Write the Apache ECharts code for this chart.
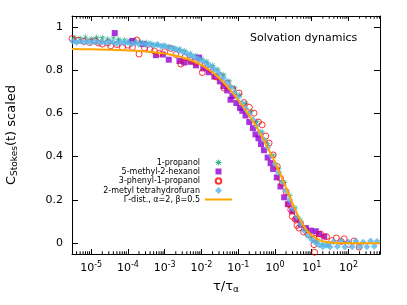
<!DOCTYPE html>
<html><head><meta charset="utf-8">
<script src="https://cdn.jsdelivr.net/npm/echarts@6/dist/echarts.min.js"></script>
<style>html,body{margin:0;padding:0;background:#fff}#c{width:407px;height:305px}</style>
</head><body><div id="c"></div>
<script>
// ---- data (x = tau/tau_alpha, y = C_Stokes scaled) ----
const propanol = [[3.5e-6,0.950],[5e-6,0.946],[7e-6,0.952],[1e-5,0.945],[1.4e-5,0.951],[2e-5,0.949],[2.8e-5,0.944],[4e-5,0.948],[5.6e-5,0.942],[8e-5,0.939],[1.1e-4,0.935],[1.6e-4,0.937],[2.2e-4,0.930],[3.2e-4,0.927],[4.5e-4,0.921],[6.3e-4,0.919],[8.9e-4,0.912],[1.26e-3,0.908],[1.8e-3,0.902],[2.5e-3,0.897],[3.5e-3,0.889],[5e-3,0.878],[7e-3,0.866],[1e-2,0.853],[1.4e-2,0.840],[2e-2,0.822],[2.8e-2,0.803],[4e-2,0.778],[5.6e-2,0.750],[7.9e-2,0.718],[0.11,0.686],[0.16,0.645],[0.22,0.609],[0.32,0.562],[0.45,0.514],[0.63,0.461],[0.89,0.405],[1.26,0.344],[1.78,0.281],[2.5,0.220],[3.5,0.163],[5,0.106],[7,0.062],[10,0.030],[14,0.008],[20,-0.004],[28,-0.008]];
const hexanol = [[4.37e-5,0.971],[1.32e-4,0.935],[2.51e-4,0.920],[5.75e-4,0.869],[8.9e-4,0.872],[1.29e-3,0.848],[2.51e-3,0.842],[3.39e-3,0.835],[5.01e-3,0.838],[7.08e-3,0.822],[8.51e-3,0.858],[1.12e-2,0.808],[1.58e-2,0.790],[2.24e-2,0.770],[3.16e-2,0.748],[3.98e-2,0.726],[5.01e-2,0.706],[6.17e-2,0.663],[6.92e-2,0.680],[8.91e-2,0.648],[0.112,0.625],[0.129,0.612],[0.158,0.590],[0.2,0.560],[0.251,0.532],[0.295,0.503],[0.355,0.485],[0.417,0.458],[0.501,0.430],[0.631,0.396],[0.759,0.370],[0.891,0.343],[1.12,0.304],[1.41,0.262],[1.78,0.212],[2.24,0.180],[2.95,0.147],[3.8,0.112],[5.01,0.086],[6.92,0.070],[9.33,0.058],[12.9,0.055],[15.8,0.042],[21.9,0.031]];
const phenylpropanol = [[3.02e-6,0.946],[4.47e-6,0.938],[6.31e-6,0.932],[8.91e-6,0.928],[1.26e-5,0.934],[1.58e-5,0.925],[2e-5,0.920],[2.82e-5,0.926],[3.39e-5,0.912],[5.01e-5,0.918],[7.08e-5,0.904],[1e-4,0.915],[1.32e-4,0.905],[1.74e-4,0.939],[2e-4,0.874],[2.82e-4,0.902],[3.98e-4,0.895],[5.25e-4,0.888],[7.08e-4,0.878],[1e-3,0.885],[1.48e-3,0.900],[2e-3,0.872],[2.75e-3,0.828],[3.55e-3,0.860],[5.01e-3,0.846],[7.08e-3,0.835],[1.05e-2,0.789],[1.26e-2,0.822],[1.78e-2,0.802],[2.51e-2,0.768],[3.16e-2,0.774],[4.07e-2,0.717],[5.01e-2,0.740],[7.08e-2,0.712],[0.105,0.694],[0.141,0.650],[0.2,0.628],[0.269,0.601],[0.355,0.560],[0.447,0.547],[0.562,0.495],[0.692,0.463],[0.891,0.408],[1.15,0.355],[1.41,0.300],[1.58,0.278],[2,0.238],[2.4,0.180],[2.69,0.155],[2.95,0.124],[3.55,0.110],[3.98,0.082],[4.47,0.070],[6.03,0.052],[7.94,0.040],[11.5,0.024],[11.5,-0.007],[12,-0.042],[17.4,0.042],[25.1,0.030],[35.5,0.012],[46.8,0.024],[63.1,0.008],[75.9,0.020],[100,-0.005],[141,0.010],[195,-0.018]];
const mthf = [[3.16e-6,0.933],[3.98e-6,0.927],[5.01e-6,0.935],[6.31e-6,0.929],[7.94e-6,0.932],[1e-5,0.926],[1.26e-5,0.934],[1.58e-5,0.928],[2e-5,0.931],[2.51e-5,0.925],[3.16e-5,0.932],[3.98e-5,0.927],[5.01e-5,0.923],[6.31e-5,0.930],[7.94e-5,0.924],[1e-4,0.927],[1.26e-4,0.921],[1.58e-4,0.926],[2e-4,0.920],[2.51e-4,0.924],[3.16e-4,0.917],[3.98e-4,0.921],[5.01e-4,0.914],[6.31e-4,0.917],[7.94e-4,0.910],[1e-3,0.912],[1.26e-3,0.905],[1.58e-3,0.901],[2e-3,0.896],[2.51e-3,0.890],[3.16e-3,0.884],[3.98e-3,0.876],[5.01e-3,0.868],[6.31e-3,0.861],[7.94e-3,0.853],[1e-2,0.845],[1.26e-2,0.835],[1.58e-2,0.824],[2e-2,0.812],[2.51e-2,0.798],[3.16e-2,0.782],[3.98e-2,0.764],[5.01e-2,0.744],[6.31e-2,0.722],[7.94e-2,0.698],[0.1,0.674],[0.126,0.649],[0.158,0.624],[0.2,0.598],[0.251,0.571],[0.316,0.543],[0.398,0.511],[0.501,0.478],[0.631,0.442],[0.794,0.404],[1,0.366],[1.26,0.325],[1.58,0.284],[2,0.242],[2.51,0.200],[3.16,0.160],[3.98,0.122],[5.01,0.088],[6.31,0.058],[7.94,0.034],[10,0.016],[12.6,0.003],[15.8,-0.008],[20,-0.016],[25.1,-0.010],[31.6,-0.018],[39.8,0.008],[50.1,-0.015],[63.1,0.010],[79.4,-0.018],[100,0.006],[126,-0.016],[158,0.010],[200,-0.018],[251,0.004],[316,-0.016],[398,0.010],[501,-0.014],[600,0.008]];
const gammaFit = [[3e-6,0.897],[1e-5,0.896],[3.16e-5,0.894],[1e-4,0.891],[3.16e-4,0.886],[1e-3,0.877],[1.78e-3,0.869],[3.16e-3,0.858],[5.62e-3,0.843],[1e-2,0.823],[1.78e-2,0.796],[3.16e-2,0.760],[5.62e-2,0.714],[0.1,0.661],[0.178,0.602],[0.316,0.537],[0.562,0.458],[1,0.374],[1.78,0.278],[3.16,0.175],[5.62,0.088],[10,0.036],[17.8,0.012],[31.6,0.003],[56.2,0.0005],[100,0],[720,0]];
const seriesNames = ['1-propanol','5-methyl-2-hexanol','3-phenyl-1-propanol','2-metyl tetrahydrofuran','Γ-dist., α=2, β=0.5'];
const xMin = 3e-6, xMax = 720, yMin = -0.05, yMax = 1.05;

// minor log ticks (2..9 x 10^k) inside the axis range
const minorTicks = [];
for (let k = -6; k <= 2; k++) for (let m = 2; m <= 9; m++) { const v = m * Math.pow(10, k); if (v > xMin && v < xMax) minorTicks.push([v, 0]); }

// point shapes
const ASTERISK = 'path://M4.5,0L5.5,0L5.5,10L4.5,10ZM0,4.5L10,4.5L10,5.5L0,5.5ZM1.9,1.2L8.8,8.1L8.1,8.8L1.2,1.9ZM8.1,1.2L8.8,1.9L1.9,8.8L1.2,8.1Z';
// legend icons: 27x7 box (corner moveTo points fix the box), mark centred in it
const BOX = 'M0,0M27,7';
const legendIcons = [
  'path://' + BOX + 'M13.1,0.5L13.9,0.5L13.9,6.5L13.1,6.5ZM10.5,3.1L16.5,3.1L16.5,3.9L10.5,3.9ZM11.7,1.1L15.9,5.3L15.3,5.9L11.1,1.7ZM15.3,1.1L15.9,1.7L11.7,5.9L11.1,5.3Z',
  'path://' + BOX + 'M10.5,0.5L16.5,0.5L16.5,6.5L10.5,6.5Z',
  'path://' + BOX + 'M16.3,3.5A2.8,2.8,0,1,1,10.7,3.5A2.8,2.8,0,1,1,16.3,3.5Z',
  'path://' + BOX + 'M13.5,0L17,3.5L13.5,7L10,3.5Z',
  'path://' + BOX + 'M0,2.5L27,2.5L27,4.5L0,4.5Z'
];

const FONT = 'DejaVu Sans';
const chart = echarts.init(document.getElementById('c'), null, {renderer: 'canvas'});
const black = '#000';
const xBase = {type: 'log', logBase: 10, min: xMin, max: xMax, splitNumber: 10,
  splitLine: {show: false}, axisLine: {show: true, onZero: false, lineStyle: {color: black, width: 1}},
  axisTick: {show: true, inside: true, length: 5, lineStyle: {color: black}}, minorTick: {show: false}};
const yBase = {type: 'value', min: yMin, max: yMax, splitNumber: 5,
  splitLine: {show: false}, axisLine: {show: true, onZero: false, lineStyle: {color: black, width: 1}},
  axisTick: {show: true, inside: true, length: 6, lineStyle: {color: black}}};

chart.setOption({
  animation: false,
  textStyle: {fontFamily: FONT, color: black},
  grid: {left: 72, right: 27, top: 16, bottom: 51, containLabel: false, outerBoundsMode: 'none'},
  legend: {
    orient: 'vertical', align: 'right', right: 174, top: 158.5, padding: 0,
    itemWidth: 27, itemHeight: 7, itemGap: 1, symbolKeepAspect: true,
    textStyle: {fontSize: 8, color: black, fontFamily: FONT},
    data: seriesNames.map(function (n, i) { return {name: n, icon: legendIcons[i]}; })
  },
  graphic: [{type: 'text', left: 250, top: 33, silent: true,
    style: {text: 'Solvation dynamics', font: '11px "DejaVu Sans"', fill: black}}],
  xAxis: [
    Object.assign({}, xBase, {position: 'bottom',
      axisLabel: {showMinLabel: false, showMaxLabel: false, margin: 7, color: black,
        formatter: function (v) { return '{b|10}{s|' + Math.round(Math.log10(v)) + '}'; },
        rich: {b: {fontSize: 11, fontFamily: FONT, color: black}, s: {fontSize: 8, fontFamily: FONT, color: black, padding: [0, 0, 7, 0]}}},
      name: 'τ/τ{a|α}', nameLocation: 'middle', nameGap: 25,
      nameTextStyle: {fontSize: 13, fontFamily: FONT, color: black,
        rich: {a: {fontSize: 9, fontFamily: FONT, color: black, padding: [6, 0, 0, 0]}}}}),
    Object.assign({}, xBase, {position: 'top', axisLabel: {show: false}})
  ],
  yAxis: [
    Object.assign({}, yBase, {position: 'left',
      axisLabel: {showMinLabel: false, showMaxLabel: false, margin: 9, fontSize: 11, color: black},
      name: 'C{s|Stokes}(t) scaled', nameLocation: 'middle', nameGap: 53,
      nameTextStyle: {fontSize: 13, fontFamily: FONT, color: black,
        rich: {s: {fontSize: 9, fontFamily: FONT, color: black, padding: [6, 0, 0, 0]}}}}),
    Object.assign({}, yBase, {position: 'right', axisLabel: {show: false}})
  ],
  series: [
    {type: 'custom', silent: true, clip: false, xAxisIndex: 0, yAxisIndex: 0, data: minorTicks,
      encode: {x: 0, y: 1},
      renderItem: function (params, api) {
        const x = api.coord([api.value(0), 0])[0];
        const cs = params.coordSys;
        const yb = cs.y + cs.height, yt = cs.y;
        return {type: 'group', children: [
          {type: 'line', shape: {x1: x, y1: yb, x2: x, y2: yb - 2.7}, style: {stroke: black, lineWidth: 1}},
          {type: 'line', shape: {x1: x, y1: yt, x2: x, y2: yt + 2.7}, style: {stroke: black, lineWidth: 1}}
        ]};
      }},
    {name: seriesNames[0], type: 'scatter', data: propanol, clip: false,
      symbol: ASTERISK, symbolSize: 6, itemStyle: {color: '#009e73'}},
    {name: seriesNames[1], type: 'scatter', data: hexanol, clip: false,
      symbol: 'rect', symbolSize: 6, itemStyle: {color: '#9400d3'}},
    {name: seriesNames[2], type: 'scatter', data: phenylpropanol, clip: false,
      symbol: 'circle', symbolSize: 6, itemStyle: {color: 'rgba(0,0,0,0)', borderColor: '#ff0000', borderWidth: 1}},
    {name: seriesNames[3], type: 'scatter', data: mthf, clip: false,
      symbol: 'diamond', symbolSize: 7, itemStyle: {color: '#56b4e9'}},
    {name: seriesNames[4], type: 'line', data: gammaFit, smooth: 0.3, symbol: 'none', showSymbol: false,
      lineStyle: {color: '#ffa500', width: 2}, itemStyle: {color: '#ffa500'}}
  ]
});
</script></body></html>
